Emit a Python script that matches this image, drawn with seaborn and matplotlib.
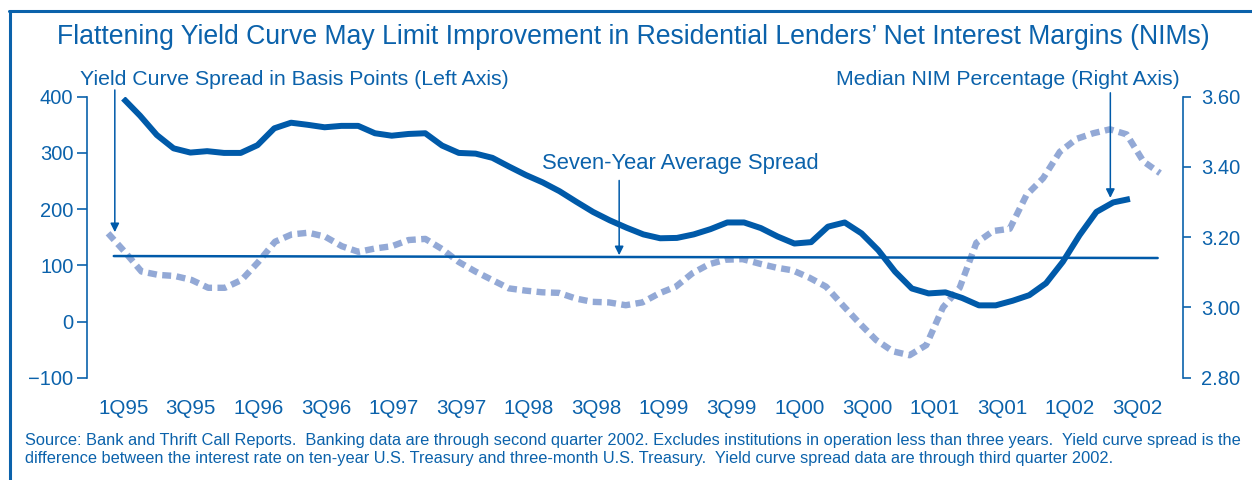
import numpy as np
import pandas as pd
import matplotlib
matplotlib.use("Agg")
import matplotlib.pyplot as plt
from matplotlib.lines import Line2D
import seaborn as sns

# x axis is counted in quarters, 0 = 1Q95
tick_labels = ["1Q95", "3Q95", "1Q96", "3Q96", "1Q97", "3Q97", "1Q98", "3Q98",
               "1Q99", "3Q99", "1Q00", "3Q00", "1Q01", "3Q01", "1Q02", "3Q02"]

# yield curve spread, basis points (left axis), read every half quarter
spread_start, spread_end = -0.45, 30.67
spread_bp = [157, 124, 89, 83, 81, 74, 60, 60, 74, 106, 142, 155, 158, 151, 134, 124,
             130, 134, 145, 147, 129, 106, 89, 74, 59, 55, 52, 51, 41, 35, 34, 29,
             34, 50, 62, 86, 102, 110, 111, 103, 96, 91, 78, 62, 29, -3, -33, -53,
             -60, -42, 25, 60, 140, 161, 165, 225, 255, 302, 325, 335, 342, 333,
             285, 264]

# median NIM percentage (right axis), read every half quarter
nim_start, nim_end = 0.0, 29.78
nim_pct = [3.595, 3.546, 3.491, 3.453, 3.441, 3.445, 3.440, 3.440, 3.462, 3.510,
           3.526, 3.520, 3.513, 3.517, 3.517, 3.496, 3.489, 3.494, 3.496, 3.461,
           3.440, 3.438, 3.426, 3.401, 3.377, 3.356, 3.331, 3.301, 3.272, 3.248,
           3.227, 3.208, 3.197, 3.198, 3.208, 3.223, 3.242, 3.242, 3.226, 3.202,
           3.182, 3.186, 3.230, 3.242, 3.211, 3.163, 3.102, 3.054, 3.040, 3.043,
           3.027, 3.006, 3.006, 3.019, 3.035, 3.069, 3.130, 3.206, 3.272, 3.299,
           3.309]

# seven-year average spread line (start / end as drawn)
avg_x = [-0.28, 30.6]
avg_bp = [116.5, 113]

BLUE = "#0b62ab"
DARK = "#005aa9"
LIGHT = "#93a9d6"

sns.set_style("white")
plt.rcParams["font.family"] = ["Liberation Sans", "DejaVu Sans"]

spread_df = pd.DataFrame({
    "q": np.linspace(spread_start, spread_end, len(spread_bp)),
    "bp": spread_bp,
})
nim_df = pd.DataFrame({
    "q": np.linspace(nim_start, nim_end, len(nim_pct)),
    "nim": nim_pct,
})

fig = plt.figure(figsize=(12.52, 4.8), dpi=100)
ax = fig.add_axes([0.0697, 0.2131, 0.8752, 0.5854])
ax2 = ax.twinx()

sns.lineplot(data=spread_df, x="q", y="bp", ax=ax, color=LIGHT, linewidth=4.6)
ax.lines[-1].set_dashes([1.4, 0.85])
ax.lines[-1].set_dash_capstyle("butt")
ax.plot(avg_x, avg_bp, color=DARK, linewidth=1.8)

sns.lineplot(data=nim_df, x="q", y="nim", ax=ax2, color=DARK, linewidth=4.3)
ax2.lines[-1].set_solid_capstyle("butt")
ax2.lines[-1].set_solid_joinstyle("round")

ax.set_xlim(-1.065, 31.35)
ax.set_ylim(-100, 400)
ax2.set_ylim(2.80, 3.60)

ax.set_xticks(np.arange(0, 31, 2))
ax.set_xticklabels(tick_labels)
ax.set_yticks([-100, 0, 100, 200, 300, 400])
ax.set_yticklabels(["\u2212100", "0", "100", "200", "300", "400"])
ax2.set_yticks([2.8, 3.0, 3.2, 3.4, 3.6])
ax2.set_yticklabels(["2.80", "3.00", "3.20", "3.40", "3.60"])

for a in (ax, ax2):
    a.set_xlabel("")
    a.set_ylabel("")
    for s in ("top", "bottom"):
        a.spines[s].set_visible(False)
ax.spines["right"].set_visible(False)
ax2.spines["left"].set_visible(False)
ax.spines["left"].set_color(BLUE)
ax2.spines["right"].set_color(BLUE)
ax.spines["left"].set_linewidth(1.2)
ax2.spines["right"].set_linewidth(1.2)

ax.tick_params(axis="x", length=0, pad=15, labelsize=14.8, labelcolor=BLUE)
ax.tick_params(axis="y", left=True, length=7, width=1.2, color=BLUE, pad=3,
               labelsize=14.5, labelcolor=BLUE)
ax2.tick_params(axis="y", right=True, length=6, width=1.2, color=BLUE, pad=7,
                labelsize=14.5, labelcolor=BLUE)

# --- arrows ---
arrow = dict(arrowstyle="-|>", color=DARK, lw=1.1, mutation_scale=13, shrinkA=0, shrinkB=0)
ax.annotate("", xy=(-0.25, 159), xytext=(-0.25, 412), arrowprops=arrow, annotation_clip=False)
ax.annotate("", xy=(14.67, 118), xytext=(14.67, 251), arrowprops=arrow, annotation_clip=False)
ax.annotate("", xy=(29.2, 220), xytext=(29.2, 407), arrowprops=arrow, annotation_clip=False)

# --- text ---
fig.text(0.5055, 0.922, "Flattening Yield Curve May Limit Improvement in Residential "
         "Lenders\u2019 Net Interest Margins (NIMs)", ha="center", va="center",
         fontsize=19.2, color=BLUE)
fig.text(0.0639, 0.8354, "Yield Curve Spread in Basis Points (Left Axis)",
         ha="left", va="center", fontsize=15.3, color=BLUE)
fig.text(0.9425, 0.8354, "Median NIM Percentage (Right Axis)",
         ha="right", va="center", fontsize=15.3, color=BLUE)
fig.text(0.4329, 0.6604, "Seven-Year Average Spread",
         ha="left", va="center", fontsize=15.8, color=BLUE)

fig.text(0.02, 0.0833, "Source: Bank and Thrift Call Reports.  Banking data are through "
         "second quarter 2002. Excludes institutions in operation less than three years.  "
         "Yield curve spread is the", ha="left", va="center", fontsize=11.8, color=BLUE)
fig.text(0.02, 0.0438, "difference between the interest rate on ten-year U.S. Treasury "
         "and three-month U.S. Treasury.  Yield curve spread data are through third "
         "quarter 2002.", ha="left", va="center", fontsize=11.8, color=BLUE)

# --- frame (top and left edge) ---
fig.add_artist(Line2D([0.0082, 0.0082], [0, 0.978], color=BLUE, lw=2.2))
fig.add_artist(Line2D([0.0075, 1.0], [0.978, 0.978], color=BLUE, lw=2.2))

fig.savefig("out.png", dpi=100)
